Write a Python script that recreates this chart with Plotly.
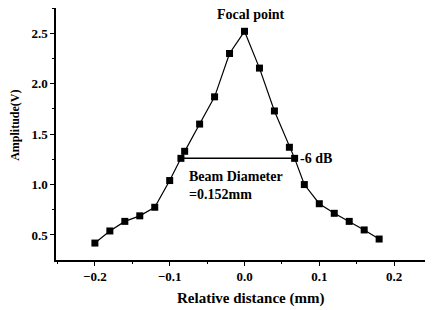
import plotly.graph_objects as go

distance_mm = [-0.2, -0.18, -0.16, -0.14, -0.12, -0.1, -0.085, -0.08, -0.06, -0.04, -0.02,
               0.0, 0.02, 0.04, 0.06, 0.067, 0.08, 0.1, 0.12, 0.14, 0.16, 0.18]
amplitude_v = [0.42, 0.54, 0.635, 0.69, 0.775, 1.04, 1.26, 1.33, 1.6, 1.87, 2.3,
               2.52, 2.155, 1.73, 1.37, 1.26, 1.0, 0.81, 0.715, 0.635, 0.55, 0.46]
beam_x = [-0.085, 0.067]
beam_y = [1.26, 1.26]
x_ticks = [-0.2, -0.1, 0.0, 0.1, 0.2]
y_ticks = [0.5, 1.0, 1.5, 2.0, 2.5]

FONT = "Liberation Serif"

def f(size):
    return dict(family=FONT, size=size, color="black", weight="bold")

fig = go.Figure()
fig.add_trace(go.Scatter(x=beam_x, y=beam_y, mode="lines",
                         line=dict(color="black", width=1.5), showlegend=False))
fig.add_trace(go.Scatter(x=distance_mm, y=amplitude_v, mode="lines+markers",
                         line=dict(color="black", width=1.2),
                         marker=dict(symbol="square", size=7, color="black"),
                         showlegend=False))

fig.add_annotation(x=0.009, y=2.69, text="Focal point", showarrow=False, font=f(14),
                   xanchor="center", yanchor="middle")
fig.add_annotation(x=0.071, y=1.26, text="-6 dB", showarrow=False, font=f(14),
                   xanchor="left", yanchor="middle")
fig.add_annotation(x=-0.077, y=1.083, text="Beam Diameter", showarrow=False, font=f(14),
                   xanchor="left", yanchor="middle")
fig.add_annotation(x=-0.077, y=0.905, text="=0.152mm", showarrow=False, font=f(14),
                   xanchor="left", yanchor="middle")
# axis titles placed in paper coordinates
fig.add_annotation(x=0.517, y=-0.151, xref="paper", yref="paper",
                   text="Relative distance (mm)", showarrow=False, font=f(15),
                   xanchor="center", yanchor="middle")
fig.add_annotation(x=-0.109, y=0.536, xref="paper", yref="paper",
                   text="Amplitude(V)", showarrow=False, font=f(12), textangle=-90,
                   xanchor="center", yanchor="middle")

# page body has an 8px default margin, so the figure is sized 8px smaller
fig.update_layout(
    width=425, height=302,
    margin=dict(l=48, r=0, t=0, b=50),
    paper_bgcolor="white", plot_bgcolor="white",
    font=dict(family=FONT, size=12, color="black"),
    xaxis=dict(range=[-0.252, 0.252], tickvals=x_ticks, tickformat=".1f", automargin=False,
               showgrid=False, zeroline=False, showline=True, linecolor="black", linewidth=1.5,
               ticks="outside", ticklen=4, tickwidth=1.2, tickcolor="black",
               minor=dict(dtick=0.05, tick0=0, ticks="outside", ticklen=2.5, tickcolor="black"),
               tickfont=f(13)),
    yaxis=dict(range=[0.252, 2.751], tickvals=y_ticks, tickformat=".1f", automargin=False,
               showgrid=False, zeroline=False, showline=True, linecolor="black", linewidth=1.5,
               ticks="outside", ticklen=4, tickwidth=1.2, tickcolor="black",
               minor=dict(dtick=0.25, tick0=0, ticks="outside", ticklen=2.5, tickcolor="black"),
               tickfont=f(13)),
)

fig.write_html("out.html")
